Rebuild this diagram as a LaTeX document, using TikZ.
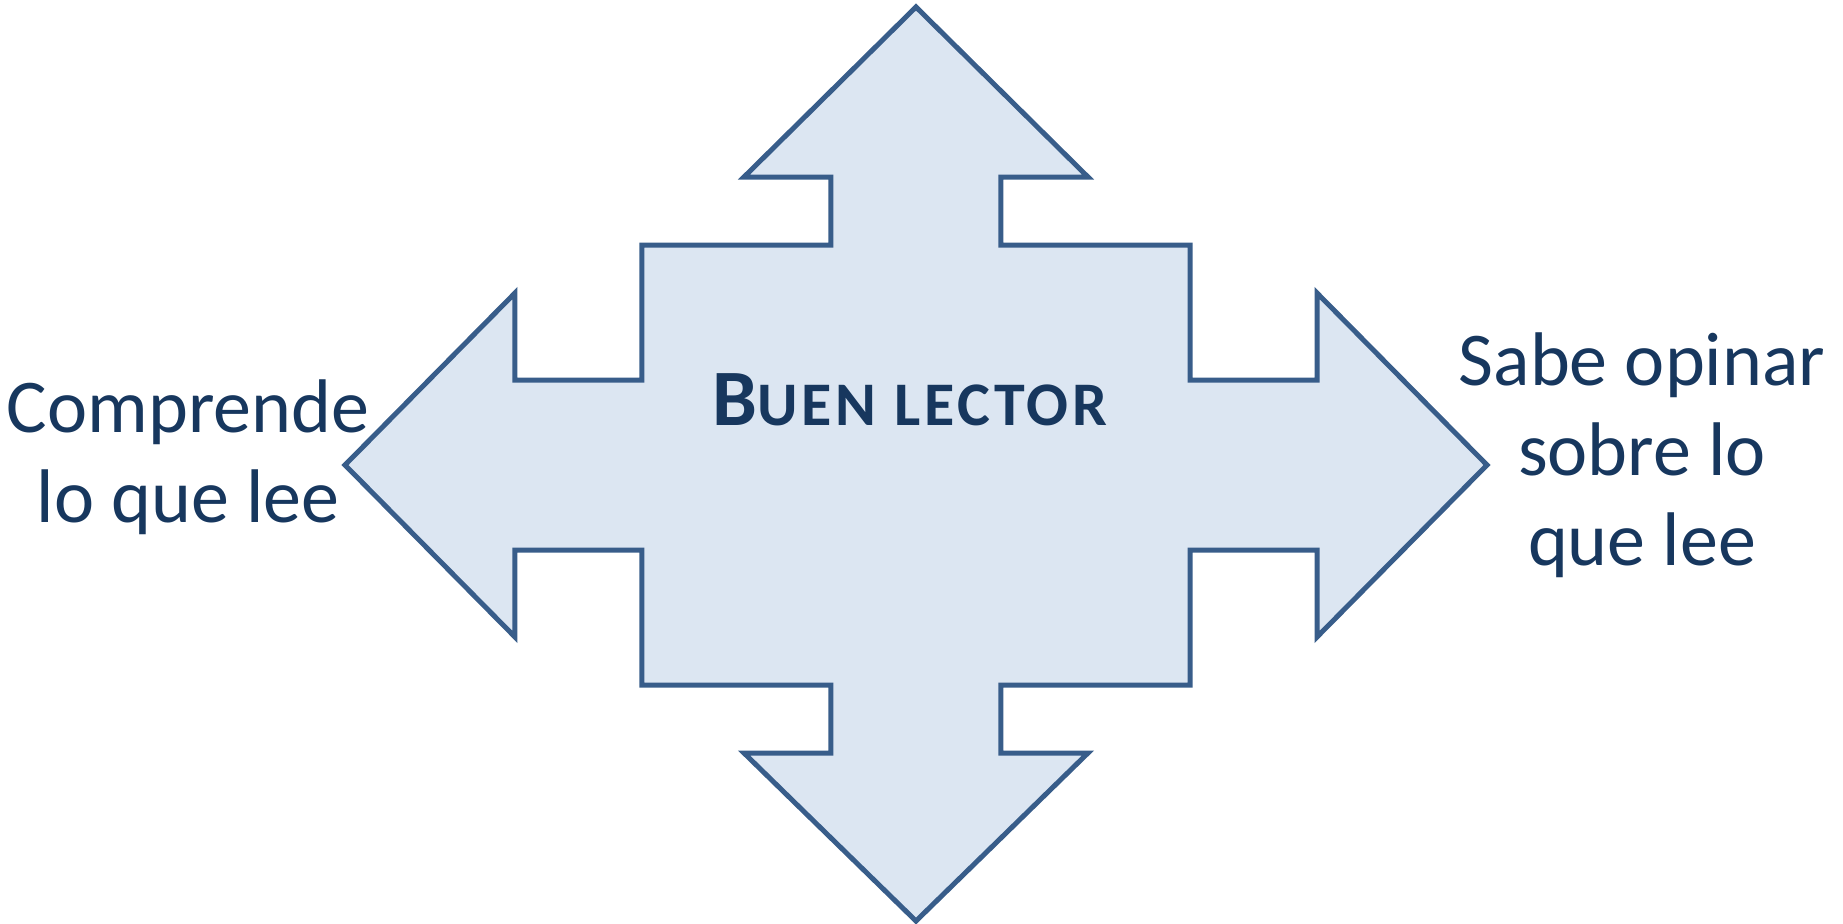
\documentclass[tikz,border=0pt]{standalone}
\usepackage{fontspec}
\setmainfont{Carlito}
\usepackage{tikz}

\definecolor{arrowfill}{HTML}{DCE6F2}
\definecolor{arrowline}{HTML}{385D8A}
\definecolor{textblue}{HTML}{17375E}

\tikzset{
    sidetext/.style={align=center, text=textblue, inner sep=0pt, font=\fontsize{38}{45}\selectfont},
    titletext/.style={text=textblue, font=\bfseries, inner sep=0pt}
}

\begin{document}
\begin{tikzpicture}[x=0.5pt,y=0.5pt]
        \useasboundingbox (-916,-458) rectangle (927,465);
        % Cross of four arrows:
        % drawn as one closed path, clockwise from the top tip
        \draw[
            fill=arrowfill,
            draw=arrowline,
            line width=2.5pt,
            line join=miter
            ]
            (0,458) -- (172,288) -- (85,288) -- (85,220)
            -- (274,220) -- (274,85) -- (401,85) -- (401,172)
            -- (571,0) -- (401,-172) -- (401,-85) -- (274,-85)
            -- (274,-220) -- (85,-220) -- (85,-288) -- (172,-288)
            -- (0,-456) -- (-172,-288) -- (-85,-288) -- (-85,-220)
            -- (-274,-220) -- (-274,-85) -- (-401,-85) -- (-401,-172)
            -- (-571,0) -- (-401,172) -- (-401,85) -- (-274,85)
            -- (-274,220) -- (-85,220) -- (-85,288) -- (-172,288)
            -- cycle;

        % Title in the middle
        \node[titletext, anchor=base] (titulo) at (-6,40)
            {\fontsize{40}{40}\selectfont B\fontsize{31}{31}\selectfont\addfontfeatures{LetterSpace=6}UEN LECTOR};

        % Texts at both sides
        \node[sidetext] (izquierda) at (-728,8) {Comprende\\lo que lee};
        \node[sidetext] (derecha) at (726,10) {Sabe opinar\\sobre lo\\que lee};
\end{tikzpicture}
\end{document}
